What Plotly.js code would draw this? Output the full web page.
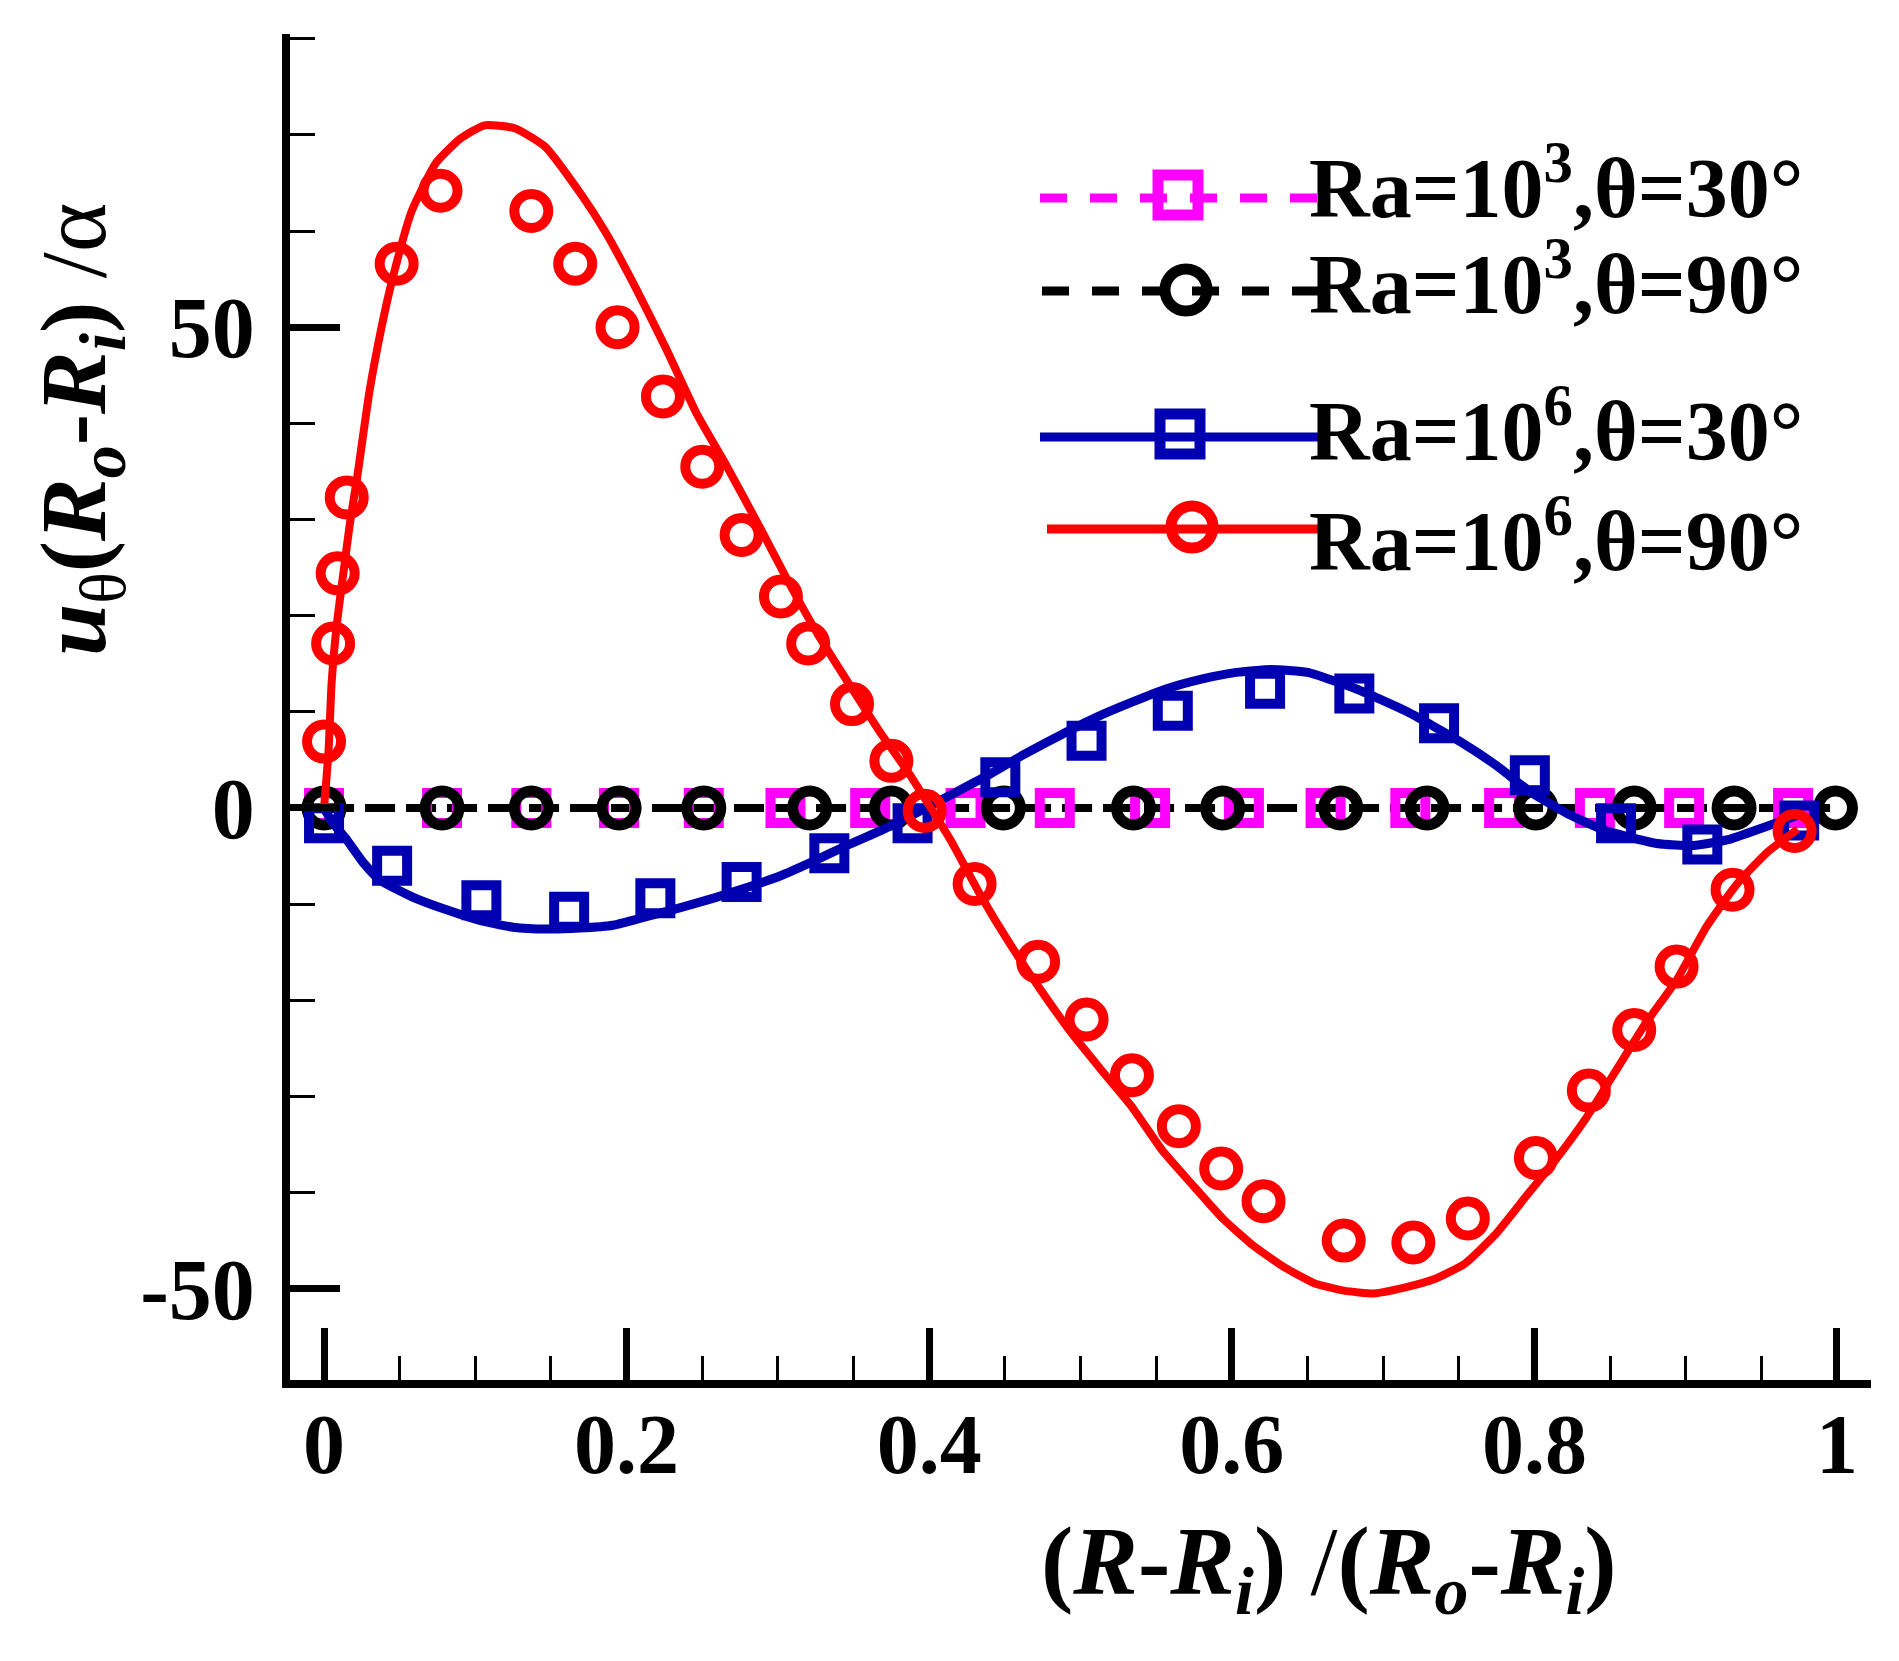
<!DOCTYPE html>
<html>
<head>
<meta charset="utf-8">
<script src="https://cdn.plot.ly/plotly-3.0.1.min.js"></script>
<style>html,body{margin:0;padding:0;background:#fff;}#chart{width:1899px;height:1661px;}</style>
</head>
<body>
<div id="chart"></div>
<script>
// ---------------- data ----------------
const seriesNames = [
  'Ra=10<sup>3</sup>,θ=30°',
  'Ra=10<sup>3</sup>,θ=90°',
  'Ra=10<sup>6</sup>,θ=30°',
  'Ra=10<sup>6</sup>,θ=90°'
];

const xTickVals = [0, 0.2, 0.4, 0.6, 0.8, 1];
const xTickText = ['0', '0.2', '0.4', '0.6', '0.8', '1'];
const yTickVals = [-50, 0, 50];
const yTickText = ['-50', '0', '50'];

// Ra=1e3, theta=30 (dashed line + squares)
const ra3t30LineX = [0, 1];
const ra3t30LineY = [0, 0];
const ra3t30MarkX = [0, 0.078, 0.137, 0.195, 0.251, 0.305, 0.361, 0.424, 0.483, 0.546, 0.608, 0.662, 0.718, 0.780, 0.840, 0.899, 0.971];
const ra3t30MarkY = [0, 0, 0, 0, 0, 0, 0, 0, 0, 0, 0, 0, 0, 0, 0, 0, 0];

// Ra=1e3, theta=90 (dashed line + circles)
const ra3t90LineX = [0, 1];
const ra3t90LineY = [0, 0];
const ra3t90MarkX = [0, 0.078, 0.137, 0.195, 0.251, 0.321, 0.375, 0.449, 0.535, 0.594, 0.672, 0.729, 0.801, 0.866, 0.932, 0.999];
const ra3t90MarkY = [0, 0, 0, 0, 0, 0, 0, 0, 0, 0, 0, 0, 0, 0, 0, 0];

// Ra=1e6, theta=30 (solid line + squares)
const ra6t30LineX = [0, 0.005, 0.015, 0.026, 0.037, 0.059, 0.081, 0.103, 0.125, 0.147, 0.169, 0.191, 0.213, 0.235, 0.257, 0.279, 0.301, 0.324, 0.347, 0.370, 0.393, 0.416, 0.440, 0.463, 0.487, 0.510, 0.534, 0.557, 0.580, 0.603, 0.626, 0.650, 0.682, 0.716, 0.751, 0.775, 0.798, 0.822, 0.846, 0.881, 0.905, 0.928, 0.952, 0.975];
const ra6t30LineY = [0, -1.4, -3.3, -5.7, -7.5, -9.3, -10.6, -11.7, -12.4, -12.6, -12.5, -12.2, -11.3, -10.4, -9.4, -8.3, -7.1, -5.5, -3.8, -2.2, -0.4, 1.5, 3.5, 5.6, 7.6, 9.4, 11.0, 12.4, 13.4, 14.1, 14.4, 14.1, 12.4, 10.0, 6.9, 4.4, 1.6, -0.6, -2.3, -3.7, -3.9, -3.3, -2.0, -0.7];
const ra6t30MarkX = [0, 0.045, 0.104, 0.162, 0.219, 0.276, 0.334, 0.389, 0.447, 0.504, 0.561, 0.622, 0.681, 0.737, 0.797, 0.854, 0.911, 0.975];
const ra6t30MarkY = [-1.6, -6.0, -9.6, -10.8, -9.4, -7.7, -4.7, -1.6, 3.2, 7.0, 10.1, 12.4, 11.9, 8.8, 3.4, -1.6, -3.8, -1.3];

// Ra=1e6, theta=90 (solid line + circles)
const ra6t90LineX = [0, 0.003, 0.005, 0.008, 0.012, 0.017, 0.022, 0.030, 0.038, 0.046, 0.058, 0.074, 0.090, 0.106, 0.126, 0.146, 0.170, 0.186, 0.206, 0.226, 0.246, 0.266, 0.287, 0.307, 0.327, 0.347, 0.367, 0.387, 0.401, 0.414, 0.434, 0.454, 0.474, 0.494, 0.514, 0.534, 0.554, 0.574, 0.594, 0.614, 0.634, 0.654, 0.674, 0.694, 0.714, 0.734, 0.754, 0.774, 0.794, 0.814, 0.834, 0.854, 0.874, 0.894, 0.914, 0.934, 0.954, 0.974];
const ra6t90LineY = [0, 6.0, 13.0, 18.5, 23.5, 29.5, 34.5, 43.3, 50.0, 55.5, 62.1, 67.1, 69.6, 71.0, 70.7, 68.8, 63.8, 59.9, 54.1, 47.8, 41.1, 35.6, 29.5, 23.5, 17.9, 12.9, 8.0, 3.5, 0, -3.3, -9.1, -14.3, -19.0, -23.4, -27.3, -31.1, -35.6, -39.2, -42.7, -45.5, -47.7, -49.4, -50.2, -50.5, -49.9, -49.0, -47.4, -44.4, -40.5, -36.6, -32.3, -27.3, -22.3, -17.9, -12.3, -7.9, -4.6, -2.2];
const ra6t90MarkX = [0, 0.006, 0.009, 0.015, 0.048, 0.077, 0.137, 0.166, 0.194, 0.224, 0.250, 0.276, 0.302, 0.320, 0.349, 0.375, 0.397, 0.430, 0.472, 0.504, 0.534, 0.565, 0.593, 0.621, 0.674, 0.720, 0.756, 0.801, 0.836, 0.866, 0.894, 0.931, 0.972];
const ra6t90MarkY = [6.9, 17.1, 24.4, 32.3, 56.6, 64.2, 62.1, 56.6, 50.0, 42.8, 35.5, 28.4, 22.0, 17.1, 10.8, 4.9, -0.3, -7.9, -16.0, -22.0, -27.8, -33.1, -37.5, -40.9, -45.0, -45.2, -42.7, -36.4, -29.4, -23.1, -16.5, -8.5, -2.4];

// ---------------- styling ----------------
const FONT = 'Liberation Serif, "Times New Roman", Times, serif';
const MAG = '#ff00ff', BLK = '#000000', BLU = '#0000b0', RED = '#ff0000';
const DASH_PLOT = '30px,11px';
const TRANSP = 'rgba(0,0,0,0)';

function lineTrace(x, y, color, width, dash) {
  return {x: x, y: y, type: 'scatter', mode: 'lines',
          line: {color: color, width: width, dash: dash, shape: 'spline', smoothing: 0.5},
          hoverinfo: 'skip', showlegend: false};
}
function markTrace(x, y, color, symbol, size, lw) {
  return {x: x, y: y, type: 'scatter', mode: 'markers',
          marker: {symbol: symbol, size: size, color: TRANSP, line: {color: color, width: lw}},
          hoverinfo: 'skip', showlegend: false};
}

const traces = [
  lineTrace(ra3t30LineX, ra3t30LineY, MAG, 8, DASH_PLOT),
  lineTrace(ra3t90LineX, ra3t90LineY, BLK, 8, DASH_PLOT),
  markTrace(ra3t30MarkX, ra3t30MarkY, MAG, 'square', 30, 10),
  markTrace(ra3t90MarkX, ra3t90MarkY, BLK, 'circle', 34, 11),
  lineTrace(ra6t30LineX, ra6t30LineY, BLU, 9, 'solid'),
  markTrace(ra6t30MarkX, ra6t30MarkY, BLU, 'square', 30, 10),
  lineTrace(ra6t90LineX, ra6t90LineY, RED, 8, 'solid'),
  markTrace(ra6t90MarkX, ra6t90MarkY, RED, 'circle', 34, 10)
];

// plot-area geometry in pixels
const W = 1899, H = 1661;
const PL = 290, PR = 1871, PT = 34, PB = 1380;
const fx = p => (p - PL) / (PR - PL);
const fy = p => (PB - p) / (PB - PT);

// custom legend (Tecplot style: long line sample with a big symbol)
const legendRows = [
  {lineY: 198, x0: 1040, x1: 1320, mx: 1178, my: 195, sym: 'square', color: MAG, dash: '27px,23px', base: 218},
  {lineY: 291, x0: 1042, x1: 1320, mx: 1186, my: 290, sym: 'circle', color: BLK, dash: '27px,23px', base: 314},
  {lineY: 437, x0: 1040, x1: 1320, mx: 1180, my: 434, sym: 'square', color: BLU, dash: 'solid', base: 461},
  {lineY: 529, x0: 1047, x1: 1320, mx: 1192, my: 527, sym: 'circle', color: RED, dash: 'solid', base: 571}
];
const LEG_FS = 84;
const shapes = [];
const annotations = [];
legendRows.forEach((r, i) => {
  shapes.push({type: 'line', xref: 'paper', yref: 'paper', x0: fx(r.x0), x1: fx(r.x1), y0: fy(r.lineY), y1: fy(r.lineY),
               line: {color: r.color, width: 9, dash: r.dash}});
  const half = r.sym === 'square' ? 20 : 21;
  shapes.push({type: r.sym === 'square' ? 'rect' : 'circle', xref: 'paper', yref: 'paper',
               x0: fx(r.mx - half), x1: fx(r.mx + half), y0: fy(r.my + half), y1: fy(r.my - half),
               fillcolor: TRANSP, line: {color: r.color, width: 11}});
  annotations.push({xref: 'paper', yref: 'paper', x: fx(1308), y: fy(r.base + 0.216 * LEG_FS),
                    xanchor: 'left', yanchor: 'bottom', showarrow: false, text: seriesNames[i],
                    font: {family: FONT, size: LEG_FS, weight: 'bold', color: '#000'}, borderpad: 0});
});

// axis titles
annotations.push({xref: 'paper', yref: 'paper', x: fx(1329), y: fy(1568), xanchor: 'center', yanchor: 'middle',
  showarrow: false,
  text: '<b>(<i>R</i>-<i>R</i></b><sub><b><i>i</i></b></sub><b>)</b> /<b>(<i>R</i></b><sub><b><i>o</i></b></sub><b>-<i>R</i></b><sub><b><i>i</i></b></sub><b>)</b>',
  font: {family: FONT, size: 97, color: '#000'}});
annotations.push({xref: 'paper', yref: 'paper', x: fx(80), y: fy(430), xanchor: 'center', yanchor: 'middle',
  showarrow: false, textangle: -90,
  text: '<b><i>u</i></b><sub>θ</sub><b>(<i>R</i></b><sub><b><i>o</i></b></sub><b>-<i>R</i></b><sub><b><i>i</i></b></sub><b>)</b> /α',
  font: {family: FONT, size: 94, color: '#000'}});

const layout = {
  width: W, height: H,
  margin: {l: PL, r: W - PR, t: PT, b: H - PB, pad: 0},
  paper_bgcolor: '#ffffff', plot_bgcolor: '#ffffff',
  showlegend: false,
  font: {family: FONT, color: '#000'},
  xaxis: {
    range: [-0.0225, 1.0225], showline: true, linewidth: 8, linecolor: '#000',
    ticks: 'inside', ticklen: 52, tickwidth: 7, tickcolor: '#000',
    tickmode: 'array', tickvals: xTickVals, ticktext: xTickText,
    minor: {tickmode: 'linear', tick0: 0, dtick: 0.05, ticks: 'inside', ticklen: 24, tickwidth: 3, tickcolor: '#000', showgrid: false},
    showgrid: false, zeroline: false, fixedrange: true, ticklabelstandoff: -16,
    tickfont: {family: FONT, size: 84, weight: 'bold', color: '#000'}
  },
  yaxis: {
    range: [-59.5, 80.5], showline: true, linewidth: 8, linecolor: '#000',
    ticks: 'inside', ticklen: 50, tickwidth: 7, tickcolor: '#000',
    tickmode: 'array', tickvals: yTickVals, ticktext: yTickText,
    minor: {tickmode: 'linear', tick0: 0, dtick: 10, ticks: 'inside', ticklen: 25, tickwidth: 3, tickcolor: '#000', showgrid: false},
    showgrid: false, zeroline: false, fixedrange: true, ticklabelstandoff: 10,
    tickfont: {family: FONT, size: 86, weight: 'bold', color: '#000'}
  },
  shapes: shapes,
  annotations: annotations
};

Plotly.newPlot('chart', traces, layout, {staticPlot: true, displayModeBar: false});
</script>
</body>
</html>
